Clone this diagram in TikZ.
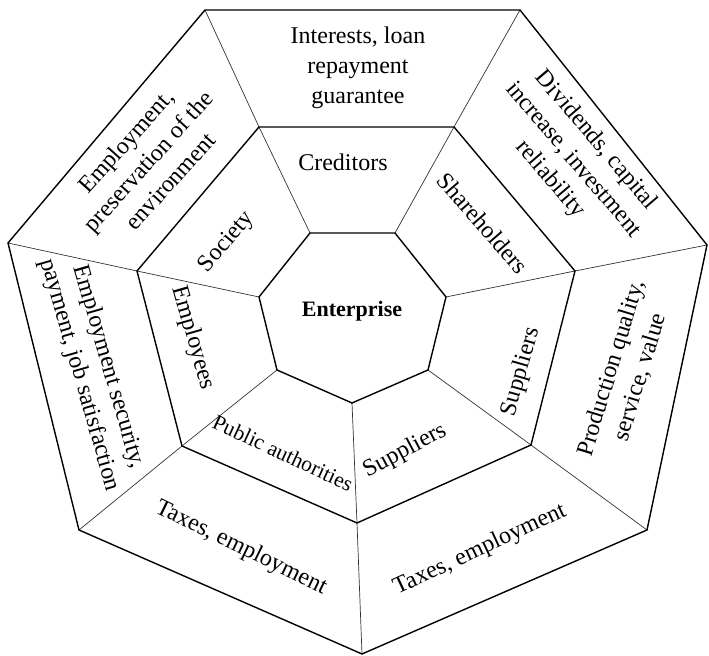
\documentclass[tikz,border=0pt]{standalone}
\usepackage{fontspec}
\setmainfont{Liberation Serif}
\usepackage{tikz}
\tikzset{
    %Define style for the three rings
    ring/.style={
           draw=black,
           line width=0.7pt,
           line join=miter,
           },
    %Define style for the dividing lines
    spoke/.style={
           draw=black!80,
           line width=0.35pt,
           },
    %Define style for the texts in the rings
    ringtext/.style={
           align=center,
           inner sep=0pt,
           font=\fontsize{12}{15}\selectfont,
           text centered,
           },
    smalltext/.style={
           ringtext,
           font=\fontsize{10.8}{13}\selectfont,
           },
    coretext/.style={
           ringtext,
           font=\fontsize{11}{13}\selectfont\bfseries,
           }
}

\begin{document}
\begin{tikzpicture}[x=0.5pt,y=-0.5pt]
\useasboundingbox (0,0) rectangle (709,656);
% outer corners
\coordinate (o1) at (205,10);
\coordinate (o2) at (520,10);
\coordinate (o3) at (707,245);
\coordinate (o4) at (647,530);
\coordinate (o5) at (362,654);
\coordinate (o6) at (79,530);
\coordinate (o7) at (8,243);
% middle corners
\coordinate (m1) at (259,127);
\coordinate (m2) at (454,127);
\coordinate (m3) at (575,271);
\coordinate (m4) at (531,445);
\coordinate (m5) at (357,523);
\coordinate (m6) at (182,446);
\coordinate (m7) at (137,271);
% inner corners
\coordinate (i1) at (310,233);
\coordinate (i2) at (395,233);
\coordinate (i3) at (446,297);
\coordinate (i4) at (428,370);
\coordinate (i5) at (352,403);
\coordinate (i6) at (277,370);
\coordinate (i7) at (259,297);

\path[spoke]
	(i1) edge (m1) (m1) edge (o1)
	(i2) edge (m2) (m2) edge (o2)
	(i3) edge (m3) (m3) edge (o3)
	(i4) edge (m4) (m4) edge (o4)
	(i5) edge (m5) (m5) edge (o5)
	(i6) edge (m6) (m6) edge (o6)
	(i7) edge (m7) (m7) edge (o7);

\draw[ring] (o1) -- (o2) -- (o3) -- (o4) -- (o5) -- (o6) -- (o7) -- cycle;
\draw[ring] (m1) -- (m2) -- (m3) -- (m4) -- (m5) -- (m6) -- (m7) -- cycle;
\draw[ring] (i1) -- (i2) -- (i3) -- (i4) -- (i5) -- (i6) -- (i7) -- cycle;

\node[coretext] (E) at (352,311) {Enterprise};

\node[ringtext] (Cr) at (343,162) {Creditors};
\node[ringtext, rotate=-49] (Sh) at (483,223) {Shareholders};
\node[ringtext, rotate=74] (Su1) at (521,372) {Suppliers};
\node[ringtext, rotate=28] (Su2) at (405,451) {Suppliers};
\node[smalltext, rotate=-25] (Pa) at (283,453) {Public authorities};
\node[ringtext, rotate=-74] (Em) at (193,338) {Employees};
\node[ringtext, rotate=50] (So) at (227,242) {Society};

\node[ringtext] (In) at (358,68) {Interests, loan\\repayment\\guarantee};
\node[ringtext, rotate=-49.5] (Di) at (573,160) {Dividends, capital\\increase, investment\\reliability};
\node[ringtext, rotate=73] (Pq) at (626,373) {Production quality,\\service, value};
\node[ringtext, rotate=25] (Tx1) at (480,550) {Taxes, employment};
\node[ringtext, rotate=-26] (Tx2) at (241,548) {Taxes, employment};
\node[ringtext, rotate=-74] (Es) at (94,371) {Employment security,\\payment, job satisfaction};
\node[ringtext, rotate=48] (Ep) at (148,161) {Employment,\\preservation of the\\environment};
\end{tikzpicture}
\end{document}
